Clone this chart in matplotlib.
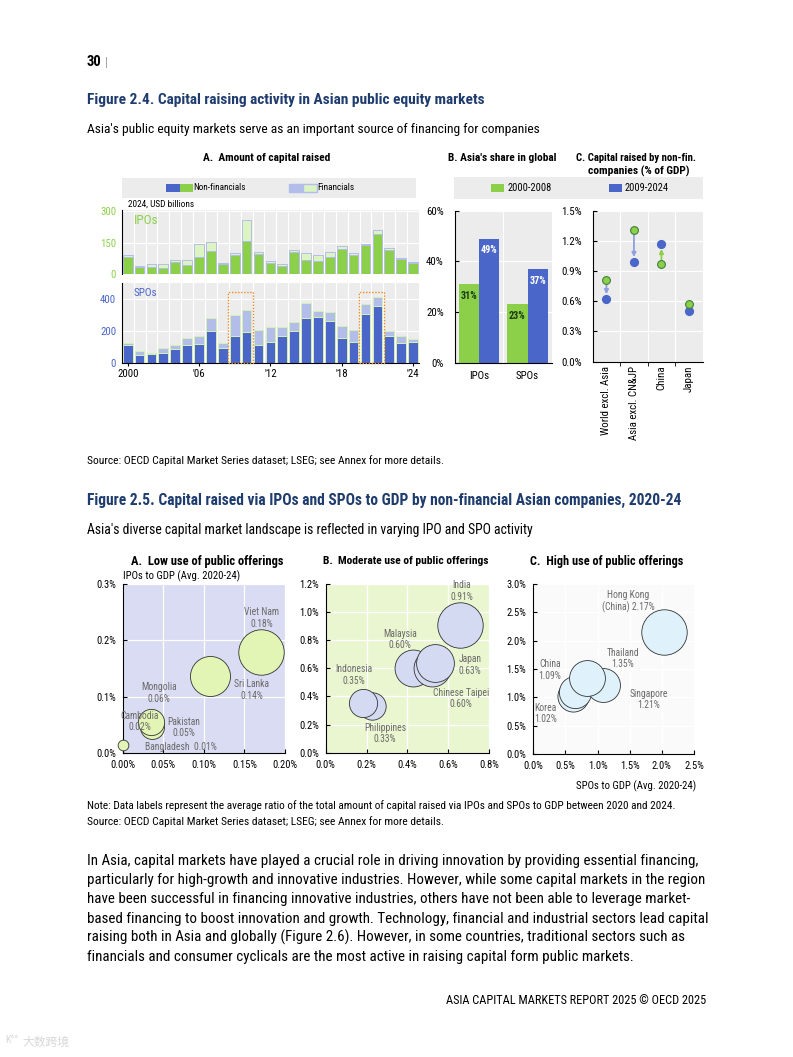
import matplotlib
matplotlib.use('Agg')
import matplotlib.pyplot as plt
import numpy as np
from matplotlib.patches import Rectangle
from matplotlib import font_manager
from matplotlib.ticker import FuncFormatter

# ---------------- data ----------------
years = list(range(2000, 2025))
ipo_nonfin = [80, 36, 35, 32, 57, 44, 80, 110, 50, 92, 156, 98, 54, 38, 104, 68, 63, 80, 120, 92, 139, 191, 114, 71, 52]
ipo_fin = [10, 4, 14, 18, 11, 26, 64, 45, 4, 8, 101, 8, 9, 11, 10, 32, 29, 24, 13, 8, 6, 19, 9, 6, 5]
spo_nonfin = [112, 50, 56, 62, 87, 112, 118, 199, 95, 166, 195, 112, 130, 170, 199, 280, 286, 263, 153, 128, 307, 356, 170, 124, 133]
spo_fin = [10, 25, 8, 31, 25, 45, 50, 83, 27, 134, 137, 93, 92, 52, 56, 95, 37, 54, 77, 75, 60, 52, 31, 42, 14]
year_ticks = ['2000', "'06", "'12", "'18", "'24"]
highlight_years = [(2009, 2010), (2020, 2021)]

share_cats = ['IPOs', 'SPOs']
share_0008 = [31, 23]
share_0924 = [49, 37]

gdp_cats = ['World excl. Asia', 'Asia excl. CN&JP', 'China', 'Japan']
gdp_0008 = [0.81, 1.31, 0.97, 0.57]
gdp_0924 = [0.62, 0.99, 1.17, 0.50]

low_names = ['Bangladesh', 'Cambodia', 'Pakistan', 'Mongolia', 'Sri Lanka', 'Viet Nam']
low_spo = [0.000, 0.033, 0.036, 0.035, 0.107, 0.171]
low_ipo = [0.015, 0.052, 0.046, 0.056, 0.137, 0.180]
low_total = [0.01, 0.02, 0.05, 0.06, 0.14, 0.18]

mod_names = ['Philippines', 'Indonesia', 'Malaysia', 'Chinese Taipei', 'Japan', 'India']
mod_spo = [0.225, 0.181, 0.426, 0.519, 0.535, 0.658]
mod_ipo = [0.332, 0.351, 0.600, 0.600, 0.636, 0.908]
mod_total = [0.33, 0.35, 0.60, 0.60, 0.63, 0.91]

high_names = ['Korea', 'China', 'Singapore', 'Thailand', 'Hong Kong (China)']
high_spo = [0.61, 0.643, 1.09, 0.83, 2.04]
high_ipo = [1.02, 1.09, 1.22, 1.35, 2.16]
high_total = [1.02, 1.09, 1.21, 1.35, 2.17]

# ---------------- setup ----------------
W, H, DPI = 793, 1057, 100
fig = plt.figure(figsize=(W / DPI, H / DPI), dpi=DPI)
fig.patch.set_facecolor('white')


def has_font(name):
    try:
        font_manager.findfont(name, fallback_to_default=False)
        return True
    except Exception:
        return False


FONT = 'Liberation Sans'
for cand in ['Liberation Sans Narrow', 'Arial Narrow', 'Roboto Condensed', 'Liberation Sans']:
    if has_font(cand):
        FONT = cand
        break
plt.rcParams['font.family'] = [FONT, 'DejaVu Sans']

TITLE_BLUE = '#1f3c6e'
GREEN = '#8cd04a'
LGREEN = '#dcf3c2'
BLUE = '#4a66c8'
LBLUE = '#b3bde9'
GRAYBG = '#ececec'

renderer = fig.canvas.get_renderer()


def axp(x0, y0, x1, y1):
    return fig.add_axes([x0 / W, 1 - y1 / H, (x1 - x0) / W, (y1 - y0) / H])


def txt(x, y, s, **kw):
    kw.setdefault('va', 'center')
    return fig.text(x / W, 1 - y / H, s, **kw)


def fit(x, y, s, width, base=10, **kw):
    """Text whose rendered width matches the reference width (pixels)."""
    t = txt(x, y, s, fontsize=base, **kw)
    w = t.get_window_extent(renderer).width
    t.set_fontsize(base * width / w)
    return t


def rect(x0, y0, x1, y1, **kw):
    fig.patches.append(Rectangle((x0 / W, 1 - y1 / H), (x1 - x0) / W, (y1 - y0) / H,
                                 transform=fig.transFigure, **kw))


# ---------------- page header ----------------
txt(87, 62, '30', fontsize=10.5, fontweight='bold')
txt(105, 62, '|', fontsize=9, color='#999999')
fit(87, 100, 'Figure 2.4. Capital raising activity in Asian public equity markets', 401,
    fontweight='bold', color=TITLE_BLUE)
fit(87, 129, "Asia's public equity markets serve as an important source of financing for companies", 450)

# ---------------- Figure 2.4 panel A ----------------
fit(266.5, 158, 'A.  Amount of capital raised', 127, ha='center', fontweight='bold')
rect(121.7, 178, 415.7, 198, facecolor=GRAYBG, edgecolor='none')
rect(166, 184.3, 180, 191.7, facecolor=BLUE, edgecolor='none')
rect(180, 184.3, 192.7, 191.7, facecolor=GREEN, edgecolor='none')
fit(193.3, 188, 'Non-financials', 52)
rect(289, 184.3, 303, 191.7, facecolor=LBLUE, edgecolor=LBLUE)
rect(303, 184.3, 316.7, 191.7, facecolor=LGREEN, edgecolor=LBLUE)
fit(317, 188, 'Financials', 37)
fit(128, 204, '2024, USD billions', 66)

x = np.arange(len(years))
ax_ipo = axp(121.75, 210, 419, 274.3)
ax_spo = axp(121.75, 282.6, 419, 363)
for ax in (ax_ipo, ax_spo):
    ax.set_facecolor(GRAYBG)
    ax.set_xlim(-0.5, len(years) - 0.5)
    for xv in np.arange(0.5, len(years) - 0.5, 1):
        ax.axvline(xv, color='white', lw=0.8, zorder=0.5)
    for s in ('top', 'right'):
        ax.spines[s].set_visible(False)
    ax.spines['left'].set_color('black')
    ax.spines['left'].set_linewidth(0.8)
    ax.tick_params(axis='y', length=0, labelsize=7.8, pad=4)

ax_ipo.set_ylim(0, 305)
ax_ipo.set_yticks([0, 150, 300])
ax_ipo.grid(axis='y', color='white', lw=0.8)
ax_ipo.set_axisbelow(True)
ax_ipo.bar(x, ipo_nonfin, width=0.82, color=GREEN, edgecolor=LBLUE, lw=0.7, zorder=2)
ax_ipo.bar(x, ipo_fin, bottom=ipo_nonfin, width=0.82, color=LGREEN, edgecolor=LBLUE, lw=0.7, zorder=2)
ax_ipo.spines['bottom'].set_visible(False)
ax_ipo.set_xticks([])
for t in ax_ipo.get_yticklabels():
    t.set_color(GREEN)
ax_ipo.text(0.04, 0.83, 'IPOs', transform=ax_ipo.transAxes, color=GREEN, fontsize=9.5, va='center')

ax_spo.set_ylim(0, 500)
ax_spo.set_yticks([0, 200, 400])
ax_spo.grid(axis='y', color='white', lw=0.8)
ax_spo.set_axisbelow(True)
ax_spo.bar(x, spo_nonfin, width=0.82, color=BLUE, edgecolor='#d4efb5', lw=0.7, zorder=2)
ax_spo.bar(x, spo_fin, bottom=spo_nonfin, width=0.82, color=LBLUE, edgecolor='#d4efb5', lw=0.7, zorder=2)
for t in ax_spo.get_yticklabels():
    t.set_color(BLUE)
ax_spo.spines['bottom'].set_color('black')
ax_spo.spines['bottom'].set_linewidth(0.8)
ax_spo.set_xticks([0, 6, 12, 18, 24])
ax_spo.set_xticklabels(year_ticks)
ax_spo.tick_params(axis='x', length=2, labelsize=7.8, pad=2)
ax_spo.text(0.04, 0.87, 'SPOs', transform=ax_spo.transAxes, color=BLUE, fontsize=8, va='center')
for (y0, y1) in highlight_years:
    i0, i1 = years.index(y0), years.index(y1)
    ax_spo.add_patch(Rectangle((i0 - 0.55, -3), (i1 - i0) + 1.1, 443, fill=False,
                               edgecolor='#f08a24', lw=1.0, ls=(0, (1, 1.2)), zorder=3, clip_on=False))

# ---------------- Figure 2.4 panel B ----------------
fit(502.5, 158, "B. Asia's share in global", 109, ha='center', fontweight='bold')
fit(636, 158, 'C. Capital raised by non-fin.', 121, ha='center', fontweight='bold')
fit(638.5, 171, 'companies (% of GDP)', 101.6, ha='center', fontweight='bold')
rect(454, 177, 702.7, 199, facecolor=GRAYBG, edgecolor='none')
rect(491, 184.3, 504.3, 191.7, facecolor=GREEN, edgecolor='none')
fit(507.3, 188, '2000-2008', 43)
rect(609, 184.3, 622.3, 191.7, facecolor=BLUE, edgecolor='none')
fit(624.7, 188, '2009-2024', 43)

axB = axp(455, 210.7, 551.7, 362.7)
axB.set_facecolor(GRAYBG)
xb = np.arange(len(share_cats))
bw = 0.42
axB.bar(xb - bw / 2, share_0008, width=bw, color=GREEN, zorder=2)
axB.bar(xb + bw / 2, share_0924, width=bw, color=BLUE, zorder=2)
for i in range(len(share_cats)):
    axB.text(xb[i] - bw / 2, share_0008[i] - 4.6, f'{share_0008[i]}%', ha='center', va='center',
             fontsize=7.3, fontweight='bold', color='#1a3a10', zorder=3)
    axB.text(xb[i] + bw / 2, share_0924[i] - 4.6, f'{share_0924[i]}%', ha='center', va='center',
             fontsize=7.3, fontweight='bold', color='white', zorder=3)
axB.set_xlim(-0.5, len(share_cats) - 0.5)
axB.set_ylim(0, 60)
axB.set_yticks([0, 20, 40, 60])
axB.yaxis.set_major_formatter(FuncFormatter(lambda v, p: f'{v:.0f}%'))
axB.grid(axis='y', color='white', lw=0.8)
axB.axvline(0.5, color='white', lw=0.8, zorder=0.5)
axB.set_axisbelow(True)
axB.set_xticks(xb)
axB.set_xticklabels(share_cats)
axB.tick_params(axis='x', length=0, labelsize=7.8, pad=6)
axB.tick_params(axis='y', length=3, direction='in', labelsize=7.8, pad=8)
for s in ('top', 'right'):
    axB.spines[s].set_visible(False)
axB.spines['left'].set_linewidth(0.8)
axB.spines['bottom'].set_linewidth(0.8)

# ---------------- Figure 2.4 panel C ----------------
axC = axp(592.7, 210.7, 702.7, 361.7)
axC.set_facecolor(GRAYBG)
xc = np.arange(len(gdp_cats))
axC.set_xlim(-0.5, len(gdp_cats) - 0.5)
axC.set_ylim(0, 1.5)
axC.set_yticks(np.arange(0, 1.51, 0.3))
axC.yaxis.set_major_formatter(FuncFormatter(lambda v, p: f'{v:.1f}%'))
axC.grid(axis='y', color='white', lw=0.8)
for xv in np.arange(0.5, len(gdp_cats) - 0.5, 1):
    axC.axvline(xv, color='white', lw=0.8, zorder=0.5)
axC.set_axisbelow(True)
for i in range(len(gdp_cats)):
    a, b = gdp_0008[i], gdp_0924[i]
    if abs(a - b) > 0.12:
        col = '#8f9fe0' if b < a else GREEN
        sgn = 1 if b < a else -1
        axC.annotate('', xy=(xc[i], b + sgn * 0.05), xytext=(xc[i], a - sgn * 0.04),
                     arrowprops=dict(arrowstyle='-|>', color=col, lw=1.3, mutation_scale=6,
                                     shrinkA=0, shrinkB=0), zorder=2)
axC.plot(xc, gdp_0924, 'o', color=BLUE, ms=5.6, mec=BLUE, zorder=3, ls='none')
axC.plot(xc, gdp_0008, 'o', color=GREEN, ms=5.6, mec='#3f7f3a', mew=0.8, zorder=4, ls='none')
axC.set_xticks(xc)
axC.set_xticklabels(gdp_cats, rotation=90, va='top')
axC.tick_params(axis='x', length=3, labelsize=7.8, pad=3)
axC.tick_params(axis='y', length=3, direction='in', labelsize=7.8, pad=8)
for s in ('top', 'right'):
    axC.spines[s].set_visible(False)
axC.spines['left'].set_linewidth(0.8)
axC.spines['bottom'].set_linewidth(0.8)
axC.set_xticks(np.arange(0.5, len(gdp_cats) - 0.5, 1), minor=True)
axC.tick_params(axis='x', which='minor', length=3)
axC.tick_params(axis='x', which='major', length=0)

fit(87, 461, 'Source: OECD Capital Market Series dataset; LSEG; see Annex for more details.', 353)

# ---------------- Figure 2.5 ----------------
fit(87, 500, 'Figure 2.5. Capital raised via IPOs and SPOs to GDP by non-financial Asian companies, 2020-24', 597,
    fontweight='bold', color=TITLE_BLUE)
fit(87, 530, "Asia's diverse capital market landscape is reflected in varying IPO and SPO activity", 443)

S_MAX = 1070

panels = [
    dict(rect=(122.7, 584, 285, 753.3), xlim=0.2, ylim=0.3, xt=np.arange(0, 0.201, 0.05), yt=np.arange(0, 0.31, 0.1),
         xf='{:.2f}%', yf='{:.1f}%', bg='#d9dcf2', fc='#e3f5b4',
         names=low_names, sx=low_spo, sy=low_ipo, tot=low_total,
         title='A.  Low use of public offerings', tx=207, tw=154,
         labels={'Viet Nam': ('Viet Nam\n0.18%', 0.1713, 0.2397),
                 'Sri Lanka': ('Sri Lanka\n0.14%', 0.159, 0.112),
                 'Mongolia': ('Mongolia\n0.06%', 0.0447, 0.107),
                 'Cambodia': ('Cambodia\n0.02%', 0.0213, 0.0557),
                 'Pakistan': ('Pakistan\n0.05%', 0.0755, 0.0455),
                 'Bangladesh': ('Bangladesh  0.01%', 0.0718, 0.0117)}),
    dict(rect=(325.7, 584, 489, 752.7), xlim=0.8, ylim=1.2, xt=np.arange(0, 0.81, 0.2), yt=np.arange(0, 1.21, 0.2),
         xf='{:.1f}%', yf='{:.1f}%', bg='#eaf6cf', fc='#d5daf3',
         names=mod_names, sx=mod_spo, sy=mod_ipo, tot=mod_total,
         title='B.  Moderate use of public offerings', tx=406, tw=166,
         labels={'India': ('India\n0.91%', 0.666, 1.150),
                 'Malaysia': ('Malaysia\n0.60%', 0.364, 0.806),
                 'Japan': ('Japan\n0.63%', 0.707, 0.624),
                 'Chinese Taipei': ('Chinese Taipei\n0.60%', 0.661, 0.387),
                 'Indonesia': ('Indonesia\n0.35%', 0.1355, 0.553),
                 'Philippines': ('Philippines\n0.33%', 0.291, 0.1375)}),
    dict(rect=(533.3, 584, 694, 754), xlim=2.5, ylim=3.0, xt=np.arange(0, 2.51, 0.5), yt=np.arange(0, 3.01, 0.5),
         xf='{:.1f}%', yf='{:.1f}%', bg='#fafafa', fc='#dff2fb',
         names=high_names, sx=high_spo, sy=high_ipo, tot=high_total,
         title='C.  High use of public offerings', tx=606.5, tw=153,
         labels={'Hong Kong (China)': ('Hong Kong\n(China) 2.17%', 1.478, 2.688),
                 'Thailand': ('Thailand\n1.35%', 1.39, 1.688),
                 'Singapore': ('Singapore\n1.21%', 1.80, 0.965),
                 'China': ('China\n1.09%', 0.259, 1.482),
                 'Korea': ('Korea\n1.02%', 0.192, 0.718)}),
]

for p in panels:
    ax = axp(*p['rect'])
    ax.set_facecolor(p['bg'])
    ax.set_xlim(0, p['xlim'])
    ax.set_ylim(0, p['ylim'])
    ax.set_xticks(p['xt'])
    ax.set_yticks(p['yt'])
    xf, yf = p['xf'], p['yf']
    ax.xaxis.set_major_formatter(FuncFormatter(lambda v, pos, f=xf: f.format(v)))
    ax.yaxis.set_major_formatter(FuncFormatter(lambda v, pos, f=yf: f.format(v)))
    ax.grid(color='white', lw=0.9)
    ax.set_axisbelow(True)
    for s in ('top', 'right'):
        ax.spines[s].set_visible(False)
    ax.spines['left'].set_linewidth(0.8)
    ax.spines['bottom'].set_linewidth(0.8)
    ax.tick_params(length=3, direction='in', labelsize=7.6, pad=5)
    tmax = max(p['tot'])
    order = np.argsort(p['tot'], kind='stable')
    for k, i in enumerate(order):
        ax.scatter(p['sx'][i], p['sy'][i], s=S_MAX * p['tot'][i] / tmax, color=p['fc'],
                   edgecolor='#333333', linewidth=0.6, zorder=3 + k, clip_on=False)
    for name, (lab, lx, ly) in p['labels'].items():
        ax.text(lx, ly, lab, ha='center', va='center', fontsize=6.9, color='#6a6a6a',
                linespacing=1.15, zorder=20)
    fit(p['tx'], 561, p['title'], p['tw'], ha='center', fontweight='bold')

fit(122.7, 576, 'IPOs to GDP (Avg. 2020-24)', 116)
fit(696, 786, 'SPOs to GDP (Avg. 2020-24)', 119, ha='right')

fit(87, 806, 'Note: Data labels represent the average ratio of the total amount of capital raised via IPOs and SPOs to GDP between 2020 and 2024.',
    585)
fit(87, 822, 'Source: OECD Capital Market Series dataset; LSEG; see Annex for more details.', 353)

# ---------------- body text ----------------
body = [
    'In Asia, capital markets have played a crucial role in driving innovation by providing essential financing,',
    'particularly for high-growth and innovative industries. However, while some capital markets in the region',
    'have been successful in financing innovative industries, others have not been able to leverage market-',
    'based financing to boost innovation and growth. Technology, financial and industrial sectors lead capital',
    'raising both in Asia and globally (Figure 2.6). However, in some countries, traditional sectors such as',
    'financials and consumer cyclicals are the most active in raising capital form public markets.',
]
maxw = 0
for line in body:
    probe = txt(0, 0, line, fontsize=10)
    maxw = max(maxw, probe.get_window_extent(renderer).width)
    probe.remove()
body_fs = 10 * 617 / maxw
y = 865
for line in body:
    txt(87, y, line, fontsize=body_fs, va='baseline')
    y += 19.2

fit(706, 1000, 'ASIA CAPITAL MARKETS REPORT 2025 © OECD 2025', 258, ha='right')
fig.text(22 / W, 1 - 1042 / H, '大数跨境', fontsize=8.5, color='#d8d8d8', va='center',
         family=['Noto Sans CJK SC', 'DejaVu Sans'])
fig.text(5 / W, 1 - 1040 / H, 'K°°', fontsize=7.5, color='#d8d8d8', va='center')

fig.savefig('out.png', dpi=DPI, facecolor='white')
